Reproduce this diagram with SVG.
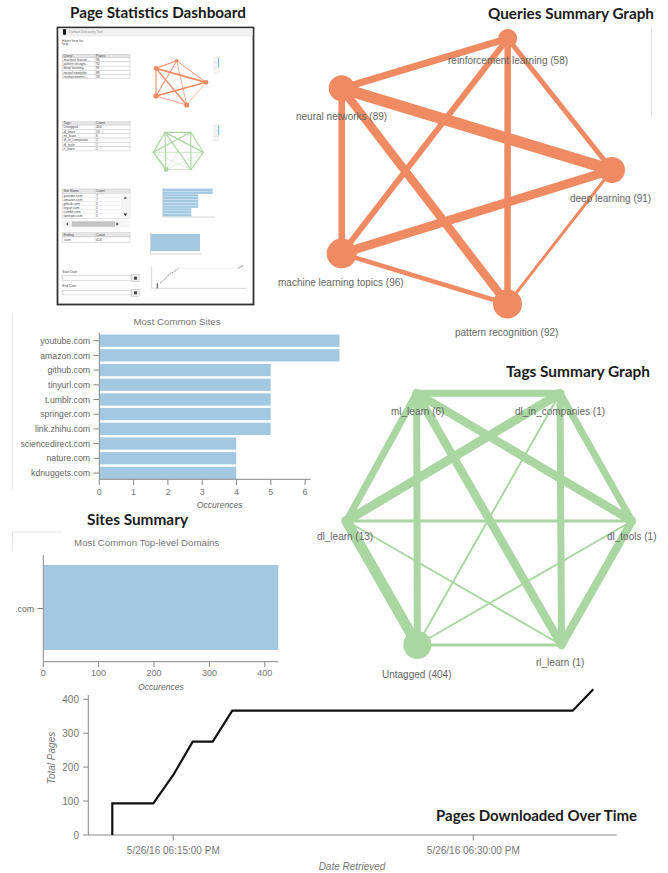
<svg xmlns="http://www.w3.org/2000/svg" width="668" height="873" viewBox="0 0 668 873">
<style>
.title{font-family:Lato,"Open Sans","DejaVu Sans",sans-serif;font-weight:700;font-size:15.5px;fill:#1a1a1a}
.lbl{font-family:"Liberation Sans",Arial,sans-serif;font-size:10px;fill:#666}
.ctitle{font-family:"Liberation Sans",Arial,sans-serif;font-size:9.7px;fill:#777}
.ytl{font-family:"Liberation Sans",Arial,sans-serif;font-size:8.7px;fill:#666;text-anchor:end}
.xtl{font-family:"Liberation Sans",Arial,sans-serif;font-size:9px;fill:#777;text-anchor:middle}
.tk{font-family:"Liberation Sans",Arial,sans-serif;font-size:10px;fill:#777}
.ax{font-family:"Liberation Sans",Arial,sans-serif;font-style:italic;font-size:8.6px;fill:#666;text-anchor:middle}
.axl{font-family:"Liberation Sans",Arial,sans-serif;font-style:italic;font-size:10px;fill:#777;text-anchor:middle}
.axis{stroke:#888;stroke-width:1;fill:none}
.bar{fill:#a3c9e2}
.qe{stroke:#f08a62;fill:none;stroke-linecap:round}
.qn{fill:#f08a62}
.te{stroke:#a9d6a1;fill:none;stroke-linecap:round}
.tn{fill:#a9d6a1}
.t3{font-family:"Liberation Sans",Arial,sans-serif;font-size:3.3px;fill:#444}
.cell{fill:#fff;stroke:#bbb;stroke-width:0.4}
.hdr{fill:#e6e6e6;stroke:#bbb;stroke-width:0.4}
</style>

<!-- ============ Page Statistics Dashboard thumbnail ============ -->
<text class="title" x="70" y="18" textLength="176" lengthAdjust="spacingAndGlyphs">Page Statistics Dashboard</text>
<g id="dashboard-thumbnail">
  <rect x="57.5" y="27.5" width="196" height="277" fill="#fff" stroke="#333" stroke-width="1.8"/>
  <rect x="58.5" y="28.5" width="194" height="7.5" fill="#f1f1f1"/>
  <line x1="58.5" y1="36" x2="252.5" y2="36" stroke="#ddd" stroke-width="0.5"/>
  <rect x="63" y="29.2" width="3" height="5.5" fill="#111"/>
  <text class="t3" x="69" y="33.4" style="fill:#888">Domain Discovery Tool</text>
  <text class="t3" x="62" y="41.5">Hover here for</text>
  <text class="t3" x="62" y="45">help</text>

  <!-- Query table -->
  <rect class="hdr" x="62.5" y="54.3" width="67.5" height="3.4"/>
  <line x1="95" y1="54.3" x2="95" y2="57.7" stroke="#bbb" stroke-width="0.4"/>
  <text class="t3" x="63.5" y="57">Query</text><text class="t3" x="96" y="57">Pages</text>
  <g>
    <rect class="cell" x="62.5" y="57.7" width="67.5" height="4.2"/>
    <rect class="cell" x="62.5" y="61.9" width="67.5" height="4.2"/>
    <rect class="cell" x="62.5" y="66.1" width="67.5" height="4.2"/>
    <rect class="cell" x="62.5" y="70.3" width="67.5" height="4.2"/>
    <rect class="cell" x="62.5" y="74.5" width="67.5" height="4.2"/>
    <line x1="95" y1="57.7" x2="95" y2="78.7" stroke="#bbb" stroke-width="0.4"/>
    <text class="t3" x="63.5" y="60.9">machine learnin...</text><text class="t3" x="96" y="60.9">96</text>
    <text class="t3" x="63.5" y="65.1">pattern recogni...</text><text class="t3" x="96" y="65.1">92</text>
    <text class="t3" x="63.5" y="69.3">deep learning</text><text class="t3" x="96" y="69.3">91</text>
    <text class="t3" x="63.5" y="73.5">neural networks</text><text class="t3" x="96" y="73.5">89</text>
    <text class="t3" x="63.5" y="77.7">reinforcement l...</text><text class="t3" x="96" y="77.7">58</text>
  </g>

  <!-- mini query graph -->
  <g>
    <line class="qe" x1="156" y1="68.3" x2="176.7" y2="60.7" stroke-width="1.2"/>
    <line class="qe" x1="156" y1="68.3" x2="206" y2="82.3" stroke-width="1.8"/>
    <line class="qe" x1="156" y1="68.3" x2="156" y2="96" stroke-width="1.1"/>
    <line class="qe" x1="156" y1="68.3" x2="186.7" y2="105" stroke-width="1.3"/>
    <line class="qe" x1="176.7" y1="60.7" x2="156" y2="96" stroke-width="1"/>
    <line class="qe" x1="176.7" y1="60.7" x2="186.7" y2="105" stroke-width="1" opacity="0.7"/>
    <line class="qe" x1="176.7" y1="60.7" x2="206" y2="82.3" stroke-width="0.9"/>
    <line class="qe" x1="156" y1="96" x2="206" y2="82.3" stroke-width="1.4"/>
    <line class="qe" x1="156" y1="96" x2="186.7" y2="105" stroke-width="0.8"/>
    <line class="qe" x1="206" y1="82.3" x2="186.7" y2="105" stroke-width="0.6"/>
    <circle class="qn" cx="176.7" cy="60.7" r="1.8"/>
    <circle class="qn" cx="156" cy="68.3" r="2.4"/>
    <circle class="qn" cx="206" cy="82.3" r="2.4"/>
    <circle class="qn" cx="156" cy="96" r="2.7"/>
    <circle class="qn" cx="186.7" cy="105" r="2.6"/>
  </g>
  <g fill="#f6f6f6" stroke="#ccc" stroke-width="0.3">
    <rect x="214" y="58" width="4.5" height="4.5"/>
    <rect x="214" y="63" width="4.5" height="4.5"/>
    <rect x="214" y="68.5" width="4.5" height="4.5"/>
  </g>
  <line x1="218.6" y1="58" x2="218.6" y2="67.5" stroke="#4aa3df" stroke-width="0.8"/>

  <!-- Tags table -->
  <rect class="hdr" x="62.5" y="121.7" width="67.5" height="3.4"/>
  <line x1="95" y1="121.7" x2="95" y2="125.1" stroke="#bbb" stroke-width="0.4"/>
  <text class="t3" x="63.5" y="124.4">Tags</text><text class="t3" x="96" y="124.4">Count</text>
  <g>
    <rect class="cell" x="62.5" y="125.1" width="67.5" height="4.3"/>
    <rect class="cell" x="62.5" y="129.4" width="67.5" height="4.3"/>
    <rect class="cell" x="62.5" y="133.7" width="67.5" height="4.3"/>
    <rect class="cell" x="62.5" y="138" width="67.5" height="4.3"/>
    <rect class="cell" x="62.5" y="142.3" width="67.5" height="4.3"/>
    <rect class="cell" x="62.5" y="146.6" width="67.5" height="4.3"/>
    <line x1="95" y1="125.1" x2="95" y2="150.9" stroke="#bbb" stroke-width="0.4"/>
    <text class="t3" x="63.5" y="128.4">Untagged</text><text class="t3" x="96" y="128.4">404</text>
    <text class="t3" x="63.5" y="132.7">dl_learn</text><text class="t3" x="96" y="132.7">13</text>
    <text class="t3" x="63.5" y="137">ml_learn</text><text class="t3" x="96" y="137">6</text>
    <text class="t3" x="63.5" y="141.3">dl_in_companies</text><text class="t3" x="96" y="141.3">1</text>
    <text class="t3" x="63.5" y="145.6">dl_tools</text><text class="t3" x="96" y="145.6">1</text>
    <text class="t3" x="63.5" y="149.9">rl_learn</text><text class="t3" x="96" y="149.9">1</text>
  </g>

  <!-- mini tags graph -->
  <g>
    <line class="te" x1="165" y1="132.3" x2="190.7" y2="132.3" stroke-width="1.2"/>
    <line class="te" x1="165" y1="132.3" x2="153.3" y2="152.3" stroke-width="1.2"/>
    <line class="te" x1="165" y1="132.3" x2="166" y2="169.5" stroke-width="1.1"/>
    <line class="te" x1="165" y1="132.3" x2="191" y2="169.5" stroke-width="1.3"/>
    <line class="te" x1="165" y1="132.3" x2="203.3" y2="152.3" stroke-width="1.3"/>
    <line class="te" x1="190.7" y1="132.3" x2="153.3" y2="152.3" stroke-width="1.3"/>
    <line class="te" x1="190.7" y1="132.3" x2="203.3" y2="152.3" stroke-width="1.1"/>
    <line class="te" x1="190.7" y1="132.3" x2="191" y2="169.5" stroke-width="1.1"/>
    <line class="te" x1="190.7" y1="132.3" x2="166" y2="169.5" stroke-width="0.4"/>
    <line class="te" x1="153.3" y1="152.3" x2="203.3" y2="152.3" stroke-width="0.6"/>
    <line class="te" x1="153.3" y1="152.3" x2="166" y2="169.5" stroke-width="1.5"/>
    <line class="te" x1="153.3" y1="152.3" x2="191" y2="169.5" stroke-width="0.4"/>
    <line class="te" x1="203.3" y1="152.3" x2="166" y2="169.5" stroke-width="0.4"/>
    <line class="te" x1="203.3" y1="152.3" x2="191" y2="169.5" stroke-width="1.2"/>
    <line class="te" x1="166" y1="169.5" x2="191" y2="169.5" stroke-width="0.6"/>
    <circle class="tn" cx="166" cy="169.5" r="2.4"/>
  </g>
  <g fill="#f6f6f6" stroke="#ccc" stroke-width="0.3">
    <rect x="214" y="125.5" width="4.5" height="4.5"/>
    <rect x="214" y="131" width="4.5" height="4.5"/>
    <rect x="214" y="136.5" width="4.5" height="4.5"/>
  </g>
  <line x1="218.6" y1="125.5" x2="218.6" y2="135" stroke="#4aa3df" stroke-width="0.8"/>

  <!-- Sites table -->
  <rect class="hdr" x="62.5" y="189" width="67.5" height="4.3"/>
  <line x1="95" y1="189" x2="95" y2="193.3" stroke="#bbb" stroke-width="0.4"/>
  <text class="t3" x="63.5" y="192.3">Site Name</text><text class="t3" x="96" y="192.3">Count</text>
  <rect x="62.5" y="193.3" width="67.5" height="25" fill="#fff" stroke="#bbb" stroke-width="0.4"/>
  <g stroke="#ccc" stroke-width="0.3">
    <line x1="62.5" y1="197.4" x2="120.5" y2="197.4"/>
    <line x1="62.5" y1="201.5" x2="120.5" y2="201.5"/>
    <line x1="62.5" y1="205.6" x2="120.5" y2="205.6"/>
    <line x1="62.5" y1="209.7" x2="120.5" y2="209.7"/>
    <line x1="62.5" y1="213.8" x2="120.5" y2="213.8"/>
    <line x1="95" y1="193.3" x2="95" y2="218.3"/>
  </g>
  <text class="t3" x="63.5" y="196.6">youtube.com</text><text class="t3" x="96" y="196.6">7</text>
  <text class="t3" x="63.5" y="200.7">amazon.com</text><text class="t3" x="96" y="200.7">7</text>
  <text class="t3" x="63.5" y="204.8">github.com</text><text class="t3" x="96" y="204.8">5</text>
  <text class="t3" x="63.5" y="208.9">tinyurl.com</text><text class="t3" x="96" y="208.9">5</text>
  <text class="t3" x="63.5" y="213">t.umblr.com</text><text class="t3" x="96" y="213">5</text>
  <text class="t3" x="63.5" y="217.1">springer.com</text><text class="t3" x="96" y="217.1">5</text>
  <rect x="120.7" y="193.3" width="9.3" height="25" fill="#f4f4f4"/>
  <polygon points="125.3,196.5 123.5,198.8 127.1,198.8" fill="#555"/>
  <polygon points="125.3,216 123.3,213.6 127.3,213.6" fill="#333"/>
  <rect x="62.5" y="220.7" width="67.5" height="6.6" fill="#f4f4f4"/>
  <rect x="71.7" y="221.3" width="43.3" height="5.4" fill="#c4c4c4"/>
  <polygon points="66,224 68.2,222.3 68.2,225.7" fill="#555"/>
  <polygon points="118.6,224 116.4,222.3 116.4,225.7" fill="#333"/>

  <!-- Ending table -->
  <rect class="hdr" x="62.5" y="232.7" width="67.5" height="4.3"/>
  <rect class="cell" x="62.5" y="237" width="67.5" height="5.3"/>
  <line x1="95" y1="232.7" x2="95" y2="242.3" stroke="#bbb" stroke-width="0.4"/>
  <text class="t3" x="63.5" y="236">Ending</text><text class="t3" x="96" y="236">Count</text>
  <text class="t3" x="63.5" y="240.9">.com</text><text class="t3" x="96" y="240.9">424</text>

  <!-- mini sites bar chart -->
  <g>
    <rect class="bar" x="163" y="188.6" width="49.7" height="2.5"/>
    <rect class="bar" x="163" y="191.4" width="49.7" height="2.5"/>
    <rect class="bar" x="163" y="194.2" width="35.3" height="2.5"/>
    <rect class="bar" x="163" y="197" width="35.3" height="2.5"/>
    <rect class="bar" x="163" y="199.8" width="35.3" height="2.5"/>
    <rect class="bar" x="163" y="202.6" width="35.3" height="2.5"/>
    <rect class="bar" x="163" y="205.4" width="35.3" height="2.5"/>
    <rect class="bar" x="163" y="208.2" width="28.3" height="2.5"/>
    <rect class="bar" x="163" y="211" width="28.3" height="2.5"/>
    <rect class="bar" x="163" y="213.8" width="28.3" height="2.5"/>
    <line x1="162.7" y1="188" x2="162.7" y2="217" stroke="#999" stroke-width="0.4"/>
    <line x1="162.7" y1="217" x2="215" y2="217" stroke="#999" stroke-width="0.4"/>
  </g>

  <!-- mini tld bar chart -->
  <rect class="bar" x="151" y="234" width="49" height="17"/>
  <line x1="151" y1="254" x2="201" y2="254" stroke="#999" stroke-width="0.4"/>
  <line x1="150.5" y1="233" x2="150.5" y2="254" stroke="#999" stroke-width="0.4"/>

  <!-- date inputs -->
  <text class="t3" x="62.3" y="272.8">Start Date</text>
  <rect x="62.5" y="275.7" width="68.5" height="4.6" fill="#fff" stroke="#aaa" stroke-width="0.4"/>
  <rect x="131.7" y="274.7" width="7.6" height="7" fill="#eee" stroke="#aaa" stroke-width="0.4"/>
  <rect x="134" y="276.7" width="3" height="3" fill="#444"/>
  <text class="t3" x="62.3" y="287.3">End Date</text>
  <rect x="62.5" y="290.3" width="68.5" height="4.6" fill="#fff" stroke="#aaa" stroke-width="0.4"/>
  <rect x="131.7" y="289.3" width="7.6" height="7" fill="#eee" stroke="#aaa" stroke-width="0.4"/>
  <rect x="134" y="291.3" width="3" height="3" fill="#444"/>

  <!-- mini line chart -->
  <line x1="151.7" y1="266.5" x2="151.7" y2="288.3" stroke="#999" stroke-width="0.4"/>
  <line x1="151.7" y1="288.3" x2="246.7" y2="288.3" stroke="#999" stroke-width="0.4"/>
  <line x1="157.3" y1="288.3" x2="157.3" y2="283.3" stroke="#111" stroke-width="0.8"/>
  <polyline points="160,283.3 166,278 170,273.5 174,272 178.3,268.3" fill="none" stroke="#333" stroke-width="0.6" stroke-dasharray="1.2,0.6"/>
  <line x1="178.3" y1="268.3" x2="238.3" y2="268.3" stroke="#ddd" stroke-width="0.4"/>
  <line x1="238.3" y1="268.3" x2="242.7" y2="265.7" stroke="#444" stroke-width="0.6"/>
</g>

<!-- ============ Queries Summary Graph ============ -->
<text class="title" x="488" y="18.5" textLength="166" lengthAdjust="spacingAndGlyphs">Queries Summary Graph</text>
<line x1="651.5" y1="27" x2="651.5" y2="117" stroke="#e2e2e2" stroke-width="1"/>
<g id="query-edges">
  <line class="qe" x1="341.7" y1="88.3" x2="507.7" y2="38.5" stroke-width="7"/>
  <line class="qe" x1="341.7" y1="88.3" x2="612" y2="170" stroke-width="11.5"/>
  <line class="qe" x1="341.7" y1="88.3" x2="341.7" y2="253.5" stroke-width="6.5"/>
  <line class="qe" x1="341.7" y1="88.3" x2="507.5" y2="304" stroke-width="8.5"/>
  <line class="qe" x1="507.7" y1="38.5" x2="341.7" y2="253.5" stroke-width="6"/>
  <line class="qe" x1="507.7" y1="38.5" x2="507.5" y2="304" stroke-width="6.5"/>
  <line class="qe" x1="507.7" y1="38.5" x2="612" y2="170" stroke-width="5"/>
  <line class="qe" x1="341.7" y1="253.5" x2="612" y2="170" stroke-width="9"/>
  <line class="qe" x1="341.7" y1="253.5" x2="507.5" y2="304" stroke-width="4.5"/>
  <line class="qe" x1="612" y1="170" x2="507.5" y2="304" stroke-width="3"/>
</g>
<g id="q-reinforcement-learning"><circle class="qn" cx="507.7" cy="38.5" r="9.5"/><text class="lbl" x="448" y="64">reinforcement learning (58)</text></g>
<g id="q-neural-networks"><circle class="qn" cx="341.7" cy="88.3" r="13"/><text class="lbl" x="296" y="120">neural networks (89)</text></g>
<g id="q-deep-learning"><circle class="qn" cx="612" cy="170" r="13"/><text class="lbl" x="570" y="202">deep learning (91)</text></g>
<g id="q-machine-learning-topics"><circle class="qn" cx="341.7" cy="253.5" r="15"/><text class="lbl" x="278" y="285.5">machine learning topics (96)</text></g>
<g id="q-pattern-recognition"><circle class="qn" cx="507.5" cy="304" r="14.5"/><text class="lbl" x="455" y="335.5">pattern recognition (92)</text></g>

<!-- ============ Most Common Sites ============ -->
<g id="sites-chart">
  <line x1="12.5" y1="314" x2="12.5" y2="490" stroke="#eeeeee" stroke-width="1"/>
  <text class="ctitle" x="177" y="325" text-anchor="middle">Most Common Sites</text>
  <rect class="bar" x="99.5" y="334.5" width="240" height="12.3"/>
  <rect class="bar" x="99.5" y="349.2" width="240" height="12.3"/>
  <rect class="bar" x="99.5" y="363.9" width="171.2" height="12.3"/>
  <rect class="bar" x="99.5" y="378.6" width="171.2" height="12.3"/>
  <rect class="bar" x="99.5" y="393.3" width="171.2" height="12.3"/>
  <rect class="bar" x="99.5" y="408" width="171.2" height="12.3"/>
  <rect class="bar" x="99.5" y="422.7" width="171.2" height="12.3"/>
  <rect class="bar" x="99.5" y="437.4" width="136.7" height="12.3"/>
  <rect class="bar" x="99.5" y="452.1" width="136.7" height="12.3"/>
  <rect class="bar" x="99.5" y="466.8" width="136.7" height="12.3"/>
  <path class="axis" d="M99.3,333 V479.3 H310.7"/>
  <g stroke="#888" stroke-width="1">
    <line x1="93.5" y1="340.7" x2="99" y2="340.7"/><line x1="93.5" y1="355.4" x2="99" y2="355.4"/>
    <line x1="93.5" y1="370.1" x2="99" y2="370.1"/><line x1="93.5" y1="384.8" x2="99" y2="384.8"/>
    <line x1="93.5" y1="399.5" x2="99" y2="399.5"/><line x1="93.5" y1="414.2" x2="99" y2="414.2"/>
    <line x1="93.5" y1="428.9" x2="99" y2="428.9"/><line x1="93.5" y1="443.6" x2="99" y2="443.6"/>
    <line x1="93.5" y1="458.3" x2="99" y2="458.3"/><line x1="93.5" y1="473" x2="99" y2="473"/>
    <line x1="99.3" y1="479.3" x2="99.3" y2="485"/><line x1="133.6" y1="479.3" x2="133.6" y2="485"/>
    <line x1="167.9" y1="479.3" x2="167.9" y2="485"/><line x1="202.2" y1="479.3" x2="202.2" y2="485"/>
    <line x1="236.5" y1="479.3" x2="236.5" y2="485"/><line x1="270.8" y1="479.3" x2="270.8" y2="485"/>
    <line x1="305.1" y1="479.3" x2="305.1" y2="485"/>
  </g>
  <text class="ytl" x="90" y="343.8">youtube.com</text>
  <text class="ytl" x="90" y="358.5">amazon.com</text>
  <text class="ytl" x="90" y="373.2">github.com</text>
  <text class="ytl" x="90" y="387.9">tinyurl.com</text>
  <text class="ytl" x="90" y="402.6">t.umblr.com</text>
  <text class="ytl" x="90" y="417.3">springer.com</text>
  <text class="ytl" x="90" y="432">link.zhihu.com</text>
  <text class="ytl" x="90" y="446.7">sciencedirect.com</text>
  <text class="ytl" x="90" y="461.4">nature.com</text>
  <text class="ytl" x="90" y="476.1">kdnuggets.com</text>
  <text class="xtl" x="99.3" y="495">0</text><text class="xtl" x="133.6" y="495">1</text>
  <text class="xtl" x="167.9" y="495">2</text><text class="xtl" x="202.2" y="495">3</text>
  <text class="xtl" x="236.5" y="495">4</text><text class="xtl" x="270.8" y="495">5</text>
  <text class="xtl" x="305.1" y="495">6</text>
  <text class="ax" x="219.7" y="508">Occurences</text>
</g>

<!-- ============ Sites Summary (TLD chart) ============ -->
<text class="title" x="87" y="525" textLength="101" lengthAdjust="spacingAndGlyphs">Sites Summary</text>
<g id="tld-chart">
  <path d="M12.5,551.5 V532 H62" fill="none" stroke="#e6e6e6" stroke-width="1"/>
  <text class="ctitle" x="146.7" y="546" text-anchor="middle">Most Common Top-level Domains</text>
  <rect class="bar" x="43.8" y="565" width="234.5" height="85"/>
  <path class="axis" d="M43.3,555 V661.7 H278.5"/>
  <g stroke="#888" stroke-width="1">
    <line x1="37.5" y1="608.5" x2="43" y2="608.5"/>
    <line x1="43.3" y1="661.7" x2="43.3" y2="667"/><line x1="98.6" y1="661.7" x2="98.6" y2="667"/>
    <line x1="154" y1="661.7" x2="154" y2="667"/><line x1="209.4" y1="661.7" x2="209.4" y2="667"/>
    <line x1="264.8" y1="661.7" x2="264.8" y2="667"/>
  </g>
  <text class="ytl" x="34" y="612">.com</text>
  <text class="xtl" x="43.3" y="676.3">0</text><text class="xtl" x="98.6" y="676.3">100</text>
  <text class="xtl" x="154" y="676.3">200</text><text class="xtl" x="209.4" y="676.3">300</text>
  <text class="xtl" x="264.8" y="676.3">400</text>
  <text class="ax" x="161" y="689.5">Occurences</text>
</g>

<!-- ============ Tags Summary Graph ============ -->
<text class="title" x="506" y="377.3" textLength="144" lengthAdjust="spacingAndGlyphs">Tags Summary Graph</text>
<g id="tag-edges">
  <line class="te" x1="416.7" y1="393.3" x2="560" y2="393.3" stroke-width="7"/>
  <line class="te" x1="416.7" y1="393.3" x2="346.5" y2="521" stroke-width="7"/>
  <line class="te" x1="416.7" y1="393.3" x2="417.3" y2="645" stroke-width="7"/>
  <line class="te" x1="416.7" y1="393.3" x2="561.5" y2="645" stroke-width="8.5"/>
  <line class="te" x1="416.7" y1="393.3" x2="632" y2="521" stroke-width="8.5"/>
  <line class="te" x1="560" y1="393.3" x2="346.5" y2="521" stroke-width="9"/>
  <line class="te" x1="560" y1="393.3" x2="632" y2="521" stroke-width="7"/>
  <line class="te" x1="560" y1="393.3" x2="561.5" y2="645" stroke-width="7"/>
  <line class="te" x1="560" y1="393.3" x2="417.3" y2="645" stroke-width="2"/>
  <line class="te" x1="346.5" y1="521" x2="632" y2="521" stroke-width="3"/>
  <line class="te" x1="346.5" y1="521" x2="417.3" y2="645" stroke-width="10.5"/>
  <line class="te" x1="346.5" y1="521" x2="561.5" y2="645" stroke-width="2"/>
  <line class="te" x1="632" y1="521" x2="417.3" y2="645" stroke-width="2"/>
  <line class="te" x1="632" y1="521" x2="561.5" y2="645" stroke-width="8"/>
  <line class="te" x1="417.3" y1="645" x2="561.5" y2="645" stroke-width="3"/>
</g>
<g id="t-ml-learn"><circle class="tn" cx="416.7" cy="393.3" r="3.5"/><text class="lbl" x="391" y="415">ml_learn (6)</text></g>
<g id="t-dl-in-companies"><circle class="tn" cx="560" cy="393.3" r="3"/><text class="lbl" x="515" y="415">dl_in_companies (1)</text></g>
<g id="t-dl-learn"><circle class="tn" cx="346.5" cy="521" r="4.5"/><text class="lbl" x="317" y="540">dl_learn (13)</text></g>
<g id="t-dl-tools"><circle class="tn" cx="632" cy="521" r="3"/><text class="lbl" x="607" y="540">dl_tools (1)</text></g>
<g id="t-untagged"><circle class="tn" cx="417.3" cy="645" r="14"/><text class="lbl" x="382" y="678">Untagged (404)</text></g>
<g id="t-rl-learn"><circle class="tn" cx="561.5" cy="645" r="3"/><text class="lbl" x="536" y="665.5">rl_learn (1)</text></g>

<!-- ============ Pages Downloaded Over Time ============ -->
<g id="time-chart">
  <path class="axis" d="M88.3,695 V835 H616.7"/>
  <g stroke="#888" stroke-width="1">
    <line x1="83" y1="699.3" x2="88.3" y2="699.3"/><line x1="83" y1="733.2" x2="88.3" y2="733.2"/>
    <line x1="83" y1="767.1" x2="88.3" y2="767.1"/><line x1="83" y1="801" x2="88.3" y2="801"/>
    <line x1="83" y1="835" x2="88.3" y2="835"/>
    <line x1="173.3" y1="835" x2="173.3" y2="840.5"/><line x1="473.3" y1="835" x2="473.3" y2="840.5"/>
  </g>
  <text class="tk" x="79" y="703" text-anchor="end">400</text>
  <text class="tk" x="79" y="736.7" text-anchor="end">300</text>
  <text class="tk" x="79" y="770.6" text-anchor="end">200</text>
  <text class="tk" x="79" y="804.5" text-anchor="end">100</text>
  <text class="tk" x="79" y="838.5" text-anchor="end">0</text>
  <text class="tk" x="173.3" y="854.3" text-anchor="middle">5/26/16 06:15:00 PM</text>
  <text class="tk" x="473.3" y="854.3" text-anchor="middle">5/26/16 06:30:00 PM</text>
  <text class="axl" x="352" y="869.5">Date Retrieved</text>
  <text class="axl" transform="translate(55.2,758) rotate(-90)">Total Pages</text>
  <path d="M112.3,835 V803.3 H153.3 L173.3,775 L192.7,741.7 H212.7 L232.3,710.7 H572.7 L593.3,689.3" fill="none" stroke="#111" stroke-width="2.2" stroke-linejoin="miter"/>
</g>
<text class="title" x="436" y="821" textLength="201" lengthAdjust="spacingAndGlyphs">Pages Downloaded Over Time</text>
</svg>
